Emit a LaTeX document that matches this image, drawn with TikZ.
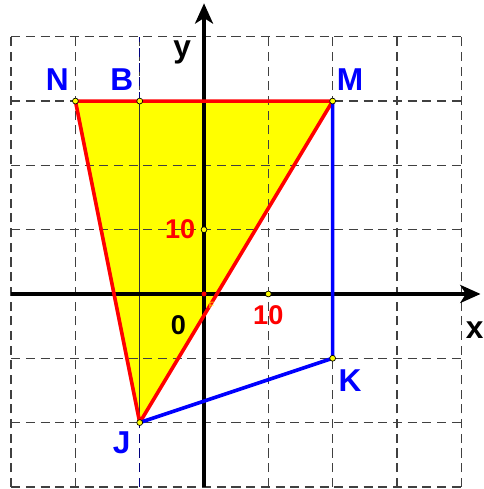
\documentclass[tikz,border=0pt]{standalone}
\usepackage{fontspec}
\setmainfont{Liberation Sans}
\usetikzlibrary{arrows.meta}
\definecolor{fillyellow}{RGB}{255,255,0}
\tikzset{
  gridline/.style={dash pattern=on 4pt off 2.5pt, line width=0.55pt, black!75},
  pointlabel/.style={text=blue, font=\fontsize{14}{16}\selectfont\bfseries},
  ticklabel/.style={text=red, font=\fontsize{12}{14}\selectfont\bfseries},
  axis/.style={line width=1.4pt, -{Stealth[length=9pt,width=8pt,inset=2.5pt]}},
  dot/.style={circle, fill=fillyellow, draw=black, line width=0.3pt, inner sep=0pt, minimum size=2.6pt}
}
\begin{document}
\begin{tikzpicture}
      \useasboundingbox (-3.173,-3.033) rectangle (4.339,4.572);

      % Points
      \coordinate (N) at (-2,3);
      \coordinate (B) at (-1,3);
      \coordinate (M) at (2,3);
      \coordinate (K) at (2,-1);
      \coordinate (J) at (-1,-2);
      \coordinate (O) at (0,0);

      % Filled triangle
      \fill[fillyellow] (N) -- (M) -- (J) -- cycle;

      % Grid
      \foreach \x in {-3,...,4}
        \draw[gridline] (\x,-3) -- (\x,4);
      \foreach \y in {-3,...,4}
        \draw[gridline] (-3,\y) -- (4,\y);
      \draw[gridline, blue!50!black] (-1,-3) -- (J);
      \draw[gridline, blue!50!black] (B) -- (-1,4);
      \draw[black!80, line width=0.5pt] (B) -- (J);

      % Axes
      \draw[axis] (-3,0) -- (4.3,0);
      \draw[axis] (0,-3) -- (0,4.52);

      % Triangle and quadrilateral sides
      \draw[red, line width=1.6pt, line join=round] (N) -- (M) -- (J) -- cycle;
      \draw[blue, line width=1.6pt, line join=round] (M) -- (K) -- (J);

      % Marked points
      \foreach \p in {N,B,M,K,J}
        \node[dot] at (\p) {};
      \node[dot] (ya) at (0,1) {};
      \node[dot] (xa) at (1,0) {};
      \node[circle, fill=red, inner sep=0pt, minimum size=2.2pt] at (O) {};

      % Labels
      \node[pointlabel] (lN) at (-2.28,3.33) {N};
      \node[pointlabel] (lB) at (-1.28,3.33) {B};
      \node[pointlabel] (lM) at (2.27,3.33) {M};
      \node[pointlabel] (lK) at (2.27,-1.34) {K};
      \node[pointlabel] (lJ) at (-1.28,-2.32) {J};
      \node[font=\fontsize{14}{16}\selectfont\bfseries] (ly) at (-0.34,3.76) {y};
      \node[font=\fontsize{14}{16}\selectfont\bfseries] (lx) at (4.21,-0.56) {x};
      \node[ticklabel] (ty) at (-0.37,1.01) {10};
      \node[ticklabel] (tx) at (1.0,-0.33) {10};
      \node[font=\fontsize{12}{14}\selectfont\bfseries] (l0) at (-0.40,-0.48) {0};
      \node[text=fillyellow, font=\fontsize{4}{5}\selectfont] (lF) at (0.12,-0.17) {F};
    \end{tikzpicture}
\end{document}
